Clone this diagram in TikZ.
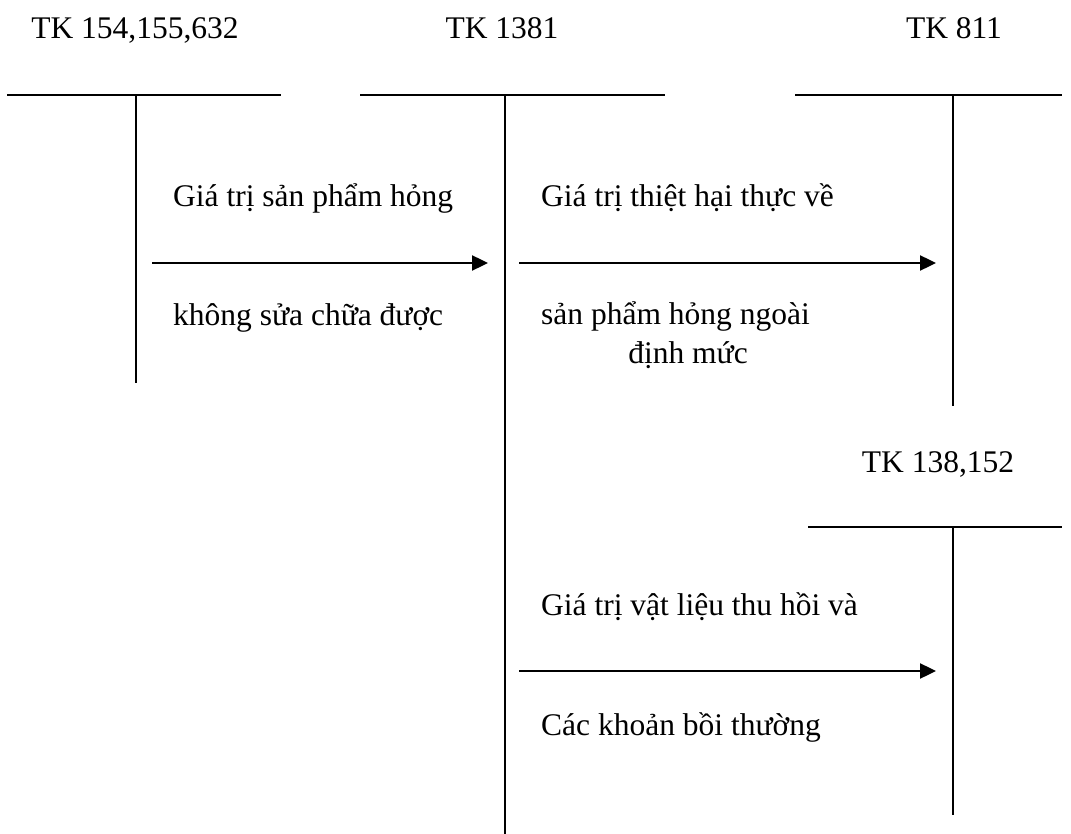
\documentclass[tikz,border=0pt]{standalone}
\usepackage{fontspec}
\setmainfont{Liberation Serif}
\usetikzlibrary{positioning,arrows.meta}

\begin{document}
\begin{tikzpicture}[>={Triangle[length=16pt,width=15pt]}, x=1pt, y=-1pt]
    \tikzset{
        account/.style={anchor=base, inner sep=0pt, font=\fontsize{31.5}{38}\selectfont},
        entry/.style={anchor=base west, inner sep=0pt, font=\fontsize{31.5}{38}\selectfont},
        bar/.style={line width=2.6pt},
        stem/.style={line width=1.6pt},
        flow/.style={->, line width=2.4pt}
    }
    \useasboundingbox (0,0) rectangle (1071,834);

    % account titles
    \node[account] (tk154) at (135,39) {TK 154,155,632};
    \node[account] (tk1381) at (502,39) {TK 1381};
    \node[account] (tk811) at (954,39) {TK 811};
    \node[account] (tk138) at (938,472) {TK 138,152};

    % T accounts
    \coordinate (bar154w) at (7,95);   \coordinate (bar154e) at (281,95);
    \coordinate (stem154t) at (136,95); \coordinate (stem154b) at (136,383);
    \coordinate (bar1381w) at (360,95); \coordinate (bar1381e) at (665,95);
    \coordinate (stem1381t) at (505,95); \coordinate (stem1381b) at (505,834);
    \coordinate (bar811w) at (795,95);  \coordinate (bar811e) at (1062,95);
    \coordinate (stem811t) at (953,95); \coordinate (stem811b) at (953,406);
    \coordinate (bar138w) at (808,527); \coordinate (bar138e) at (1062,527);
    \coordinate (stem138t) at (953,527); \coordinate (stem138b) at (953,815);

    \draw[bar] (bar154w) -- (bar154e);
    \draw[stem] (stem154t) -- (stem154b);
    \draw[bar] (bar1381w) -- (bar1381e);
    \draw[stem] (stem1381t) -- (stem1381b);
    \draw[bar] (bar811w) -- (bar811e);
    \draw[stem] (stem811t) -- (stem811b);
    \draw[bar] (bar138w) -- (bar138e);
    \draw[stem] (stem138t) -- (stem138b);

    % entries
    \coordinate (spoilfrom) at (152,263); \coordinate (spoilto) at (488,263);
    \coordinate (lossfrom) at (519,263);  \coordinate (lossto) at (936,263);
    \coordinate (scrapfrom) at (519,671); \coordinate (scrapto) at (936,671);

    \node[entry] (spoiltop) at (173,207) {Giá trị sản phẩm hỏng};
    \draw[flow] (spoilfrom) -- (spoilto);
    \node[entry] (spoilbot) at (173,326) {không sửa chữa được};

    \node[entry] (losstop) at (541,207) {Giá trị thiệt hại thực về};
    \draw[flow] (lossfrom) -- (lossto);
    \node[entry] (lossbot) at (541,325) {sản phẩm hỏng ngoài};
    \node[account] (lossnorm) at (688,363) {định mức};

    \node[entry] (scraptop) at (541,615) {Giá trị vật liệu thu hồi và};
    \draw[flow] (scrapfrom) -- (scrapto);
    \node[entry] (scrapbot) at (541,735) {Các khoản bồi thường};
\end{tikzpicture}
\end{document}
